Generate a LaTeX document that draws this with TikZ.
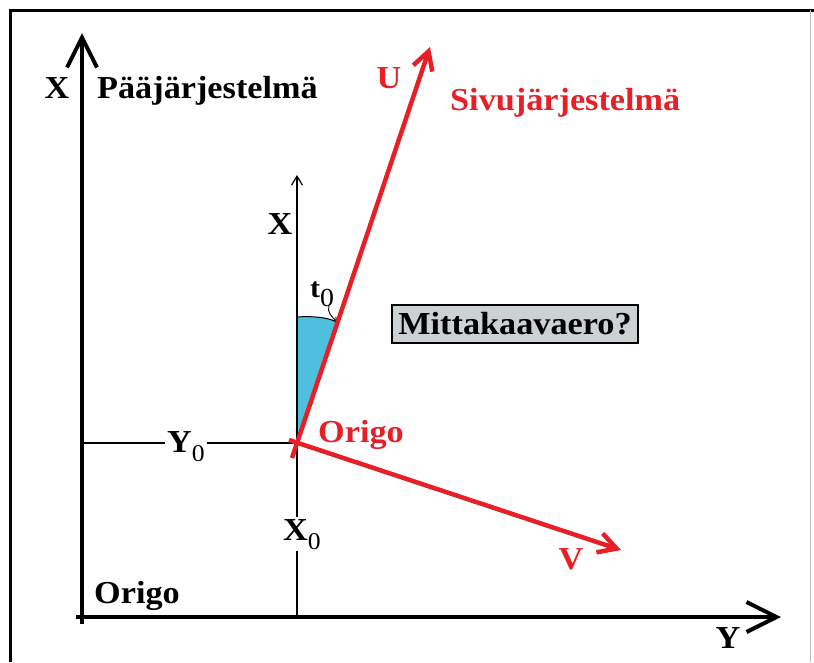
\documentclass[tikz,border=0pt]{standalone}
\usepackage{fontspec}
\setmainfont[FakeStretch=1.07]{Liberation Serif}
\usetikzlibrary{arrows.meta}
\definecolor{redc}{RGB}{230,32,38}
\definecolor{bluec}{RGB}{78,192,222}
\definecolor{boxgray}{RGB}{204,209,212}
\newcommand{\subz}[1]{\raisebox{-9pt}{\fontsize{#1}{#1}\selectfont\mdseries 0}}
\begin{document}
\begin{tikzpicture}[x=1pt,y=-1pt,
  lbl/.style={font=\fontsize{32}{36}\selectfont\bfseries, inner sep=0pt},
  rlbl/.style={lbl, text=redc},
  mainaxis/.style={line width=4pt, -{Straight Barb[length=30pt,width=30pt]}},
  thinaxis/.style={line width=1.2pt},
  thinarrow/.style={line width=1.2pt, -{Straight Barb[length=9pt,width=11pt]}},
  redvec/.style={redc, line width=4.5pt, -{Straight Barb[length=18pt,width=20pt]}},
  qbox/.style={draw, fill=boxgray, line width=1.5pt, minimum width=246pt, minimum height=38pt, inner sep=0pt, font=\fontsize{32}{36}\selectfont\bfseries}
]
\useasboundingbox (0,0) rectangle (814,662);
% frame
\draw[line width=3pt] (10,662) -- (10,10) -- (814,10);
\draw[black!25, line width=1pt] (810,10) -- (810,662);

% coordinates
\coordinate (mo) at (82,617);
\coordinate (mbot) at (82,624);
\coordinate (mleft) at (76,617);
\coordinate (xtip) at (82,33);
\coordinate (ytip) at (781,617);
\coordinate (O) at (297,443);
\coordinate (sxtip) at (297,175);
\coordinate (sxbot) at (297,617);
\coordinate (y0left) at (82,443);
\coordinate (arcL) at (297,317);
\coordinate (arcR) at (337.6,322);
\coordinate (ustart) at (292,458);
\coordinate (utip) at (430,47);
\coordinate (vstart) at (289,440);
\coordinate (vtip) at (621,550);

% blue angle region
\fill[bluec] (O) -- (arcL) .. controls (312,316) and (326,317) .. (arcR) -- cycle;

% secondary thin axes
\draw[thinaxis] (sxbot) -- (O);
\draw[thinarrow] (O) -- (sxtip);
\draw[thinaxis] (y0left) -- (O);

% angle arc and hook
\draw[line width=1pt] (arcL) .. controls (312,316) and (326,317) .. (arcR);
\draw[line width=0.9pt, -{Straight Barb[length=4pt,width=5pt]}] (329,306) .. controls (327,312) and (331,316) .. (arcR);

% main axes
\draw[mainaxis] (mbot) -- (xtip);
\draw[mainaxis] (mleft) -- (ytip);

% red vectors
\draw[redvec] (ustart) -- (utip);
\draw[redvec] (vstart) -- (vtip);

% labels
\node[lbl] (xmain) at (57,88) {X};
\node[lbl, anchor=base west] (paa) at (97,98) {Pääjärjestelmä};
\node[lbl, anchor=base west] (origoB) at (94,603) {Origo};
\node[lbl] (ymain) at (728,638) {Y};
\node[lbl] (xsec) at (280,224) {X};
\node[lbl, fill=white, inner sep=2pt, anchor=base] (y0) at (186,452) {Y\subz{24}};
\node[lbl, fill=white, inner sep=2pt, anchor=base] (x0) at (302,540) {X\subz{24}};
\node[font=\fontsize{28}{30}\selectfont\bfseries, inner sep=0pt, anchor=base west] (t0) at (310,297) {t\subz{26}};
\node[rlbl] (ulbl) at (389,78) {U};
\node[rlbl, anchor=base west] (sivu) at (450,110) {Sivujärjestelmä};
\node[rlbl, anchor=base west] (origoR) at (318,442) {Origo};
\node[rlbl] (vlbl) at (571,559) {V};
\node[qbox] (mitta) at (515,324) {Mittakaavaero?};
\end{tikzpicture}
\end{document}
